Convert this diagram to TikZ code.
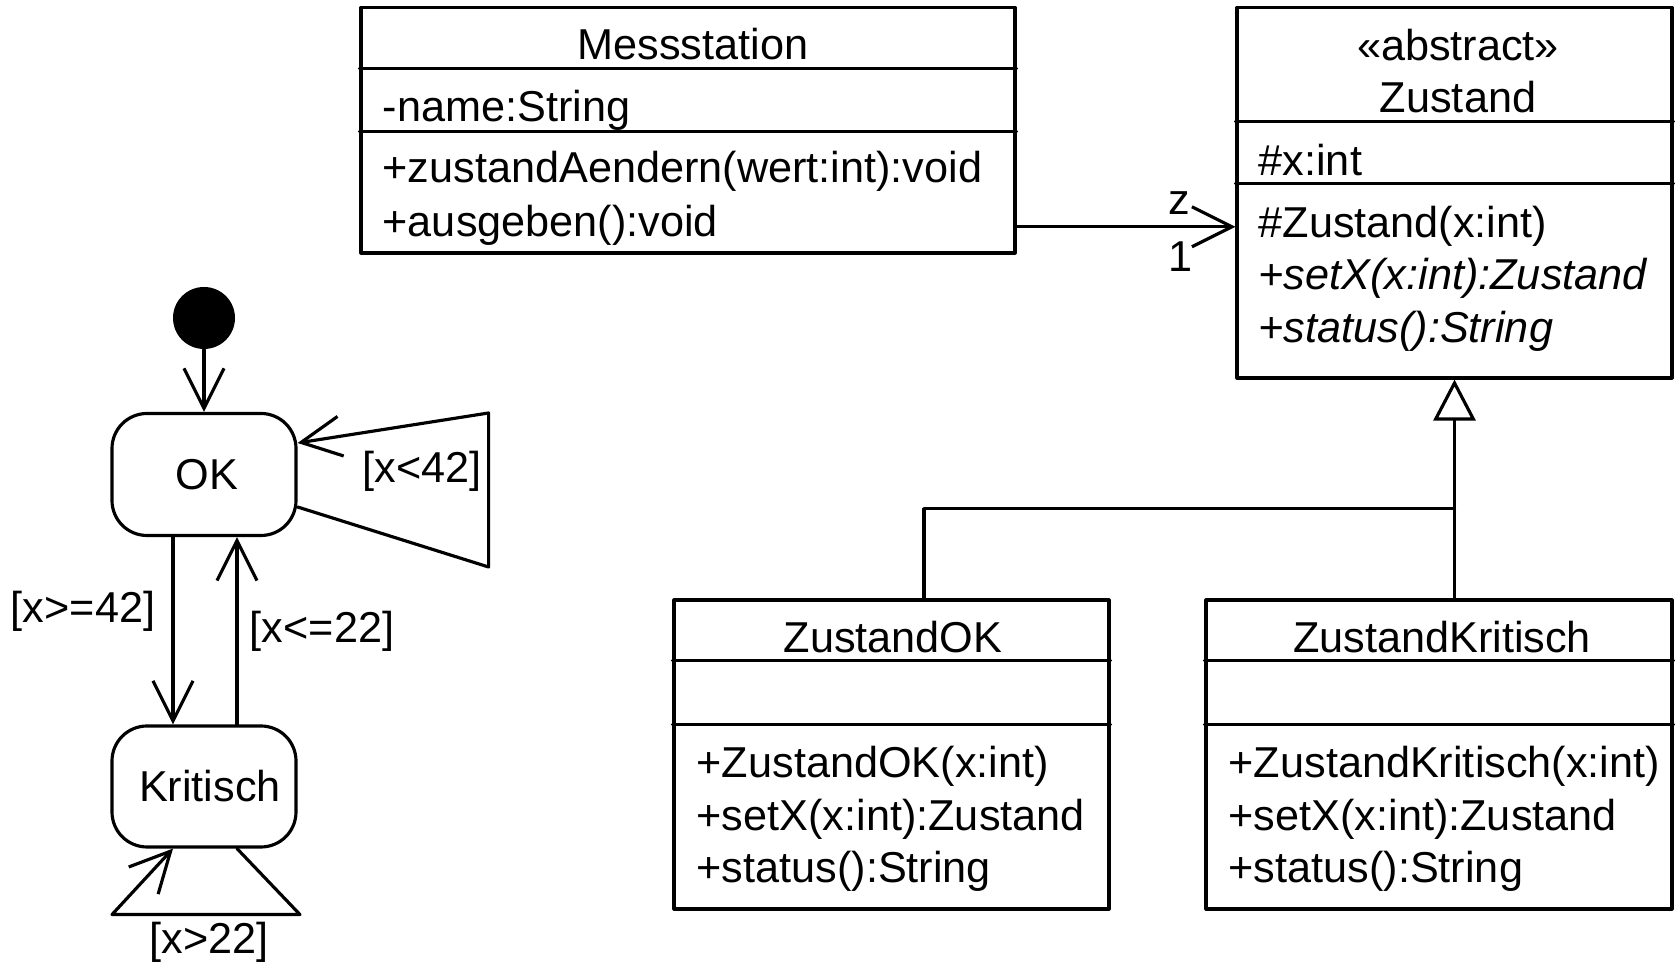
\documentclass[tikz,border=0pt]{standalone}
\usepackage{fontspec}
\setsansfont{Liberation Sans}
\usetikzlibrary{arrows.meta,positioning,calc}

\begin{document}
\begin{tikzpicture}[
  font=\sffamily\fontsize{12.3}{14}\selectfont, line cap=round, line join=round,
  cls/.style={draw, line width=0.9pt, inner sep=0pt},
  sep/.style={line width=0.9pt},
  ttl/.style={anchor=base, inner sep=0pt},
  mbr/.style={anchor=base west, inner sep=0pt},
  st/.style={draw, line width=0.9pt, rounded corners=3.5mm, minimum width=18.4mm,
             minimum height=12.2mm, inner sep=0pt},
  grd/.style={anchor=base, inner sep=0pt},
  tr/.style={-{Straight Barb[length=4mm,width=4mm]}, line width=0.9pt},
  gen/.style={-{Triangle[open,length=4.1mm,width=4.2mm]}, line width=0.9pt}]

\useasboundingbox (0,0) rectangle (16.75,9.65);

% ================================================================ classes
\node[cls, minimum width=65.4mm, minimum height=24.55mm] (ms) at (6.88,8.3475) {};
\draw[sep] ([yshift=-6.3mm]ms.north west) -- ([yshift=-6.3mm]ms.north east);
\draw[sep] ([yshift=-12.6mm]ms.north west) -- ([yshift=-12.6mm]ms.north east);
\node[ttl] (ms-t) at (6.93,9.05) {Messstation};
\node[mbr] (ms-a) at (3.82,8.43) {-name:String};
\node[mbr] (ms-o1) at (3.82,7.82) {+zustandAendern(wert:int):void};
\node[mbr] (ms-o2) at (3.82,7.28) {+ausgeben():void};

\node[cls, minimum width=43.5mm, minimum height=37.05mm] (zu) at (14.545,7.7225) {};
\draw[sep] ([yshift=-11.55mm]zu.north west) -- ([yshift=-11.55mm]zu.north east);
\draw[sep] ([yshift=-17.75mm]zu.north west) -- ([yshift=-17.75mm]zu.north east);
\node[ttl] (zu-s) at (14.58,9.04) {«abstract»};
\node[ttl] (zu-t) at (14.58,8.52) {Zustand};
\node[mbr] (zu-a) at (12.58,7.89) {\#x:int};
\node[mbr] (zu-o1) at (12.58,7.27) {\#Zustand(x:int)};
\node[mbr] (zu-o2) at (12.58,6.75) {\itshape +setX(x:int):Zustand};
\node[mbr] (zu-o3) at (12.58,6.22) {\itshape +status():String};

\node[cls, minimum width=43.5mm, minimum height=30.9mm] (zok) at (8.915,2.105) {};
\draw[sep] ([yshift=-6.2mm]zok.north west) -- ([yshift=-6.2mm]zok.north east);
\draw[sep] ([yshift=-12.6mm]zok.north west) -- ([yshift=-12.6mm]zok.north east);
\node[ttl] (zok-t) at (8.93,3.12) {ZustandOK};
\node[mbr] (zok-o1) at (6.96,1.87) {+ZustandOK(x:int)};
\node[mbr] (zok-o2) at (6.96,1.34) {+setX(x:int):Zustand};
\node[mbr] (zok-o3) at (6.96,0.82) {+status():String};

\node[cls, minimum width=46.6mm, minimum height=30.9mm] (zk) at (14.39,2.105) {};
\draw[sep] ([yshift=-6.2mm]zk.north west) -- ([yshift=-6.2mm]zk.north east);
\draw[sep] ([yshift=-12.6mm]zk.north west) -- ([yshift=-12.6mm]zk.north east);
\node[ttl] (zk-t) at (14.42,3.12) {ZustandKritisch};
\node[mbr] (zk-o1) at (12.28,1.87) {+ZustandKritisch(x:int)};
\node[mbr] (zk-o2) at (12.28,1.34) {+setX(x:int):Zustand};
\node[mbr] (zk-o3) at (12.28,0.82) {+status():String};

% association and generalization
\draw[tr] (ms.east |- zu-o1) -- (zu.west |- zu-o1);
\node[grd] (m-z) at (11.79,7.50) {z};
\node[grd] (m-1) at (11.80,6.93) {1};

\coordinate (gj) at ($(zu.south)+(0,-1.29)$);
\draw[gen] (zk.north -| zu.south) -- (zu.south);
\draw[sep] ([xshift=3.25mm]zok.north) |- (gj);

% ================================================================ states
\node[fill, circle, minimum size=6.2mm, inner sep=0pt] (init) at (2.04,6.47) {};
\node[st] (ok) at (2.04,4.905) {\hspace{0.6mm}OK};
\node[st, minimum height=12.1mm] (kr) at (2.04,1.785) {\hspace{1.2mm}Kritisch};

\draw[tr] (init) -- (ok);
\draw[tr] ([xshift=-3.1mm]ok.south) -- ([xshift=-3.1mm]kr.north);
\draw[tr] ([xshift=3.3mm]kr.north) -- ([xshift=3.3mm]ok.south);
\node[grd] (g1) at (0.83,3.42) {[x>=42]};
\node[grd] (g2) at (3.22,3.22) {[x<=22]};

\draw[tr] ([yshift=-3.25mm]ok.east) -- ++(1.91,-0.6) -- ++(0,1.54)
  -- ([yshift=3.15mm]ok.east);
\node[grd] (g3) at (4.22,4.82) {[x<42]};

\draw[tr] ([xshift=3.3mm]kr.south) -- ++(0.63,-0.66) -- ++(-1.88,0)
  -- ([xshift=-3.1mm]kr.south);
\node[grd] (g4) at (2.09,0.11) {[x>22]};

\end{tikzpicture}
\end{document}
